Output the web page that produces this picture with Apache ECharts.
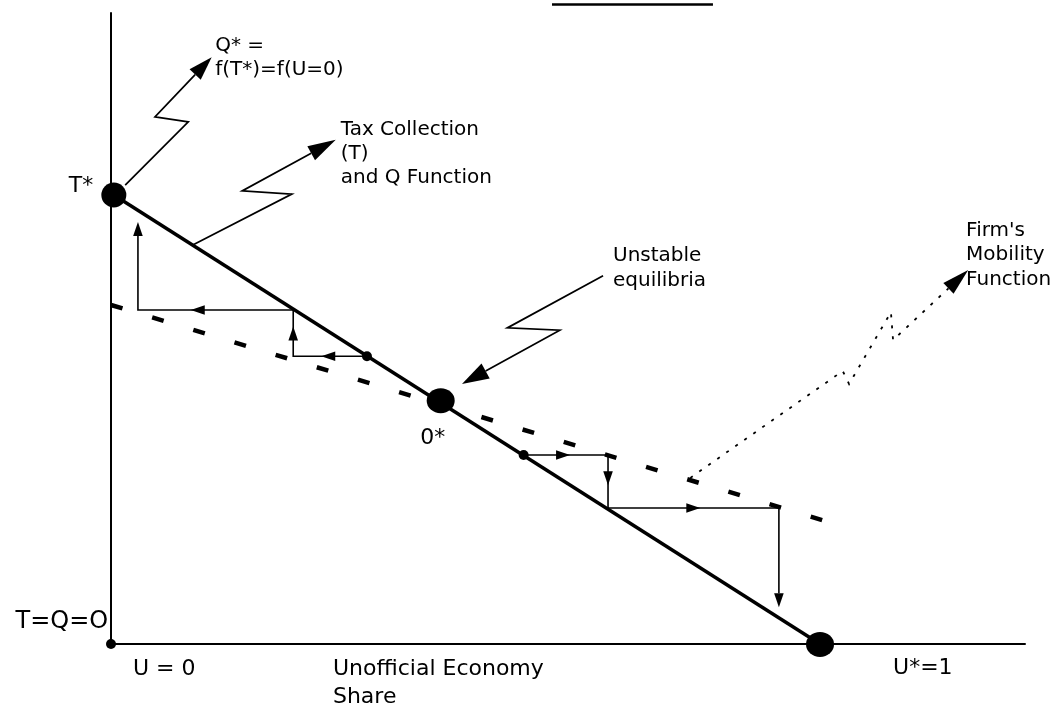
<!DOCTYPE html>
<html><head><meta charset="utf-8">
<script src="https://cdn.jsdelivr.net/npm/echarts@6/dist/echarts.min.js"></script>
<style>html,body{margin:0;padding:0;background:#fff}#c{width:1054px;height:707px}</style>
</head><body><div id="c"></div>
<script>
// ---------------- data (U = unofficial economy share, T = tax collection / Q) ----------------
const taxLine       = [[0.004, 1.000], [1.000, 0.000]];            // Tax collection (T) and Q function
const mobilityLine  = [[0.000, 0.755], [1.003, 0.276]];            // Firm's mobility function
const equilibria    = [[0.004, 1.000], [0.465, 0.542], [1.000, -0.001]]; // T*, 0*, U*=1
const cobwebDots    = [[0.361, 0.641], [0.582, 0.421]];
const originPoint   = [[0, 0]];
const cobwebLeft    = [[0.361, 0.641], [0.257, 0.641], [0.257, 0.744], [0.038, 0.744], [0.038, 0.940]];
const cobwebRight   = [[0.582, 0.421], [0.701, 0.421], [0.701, 0.303], [0.942, 0.303], [0.942, 0.082]];
const arrowQ        = [[0.020, 1.022], [0.109, 1.163], [0.062, 1.174], [0.142, 1.307]];
const arrowTax      = [[0.116, 0.889], [0.255, 1.002], [0.185, 1.009], [0.317, 1.123]];
const arrowUnstable = [[0.694, 0.820], [0.559, 0.704], [0.633, 0.699], [0.495, 0.579]];
const arrowFirm     = [[0.817, 0.370], [1.032, 0.608], [1.041, 0.579], [1.100, 0.739], [1.103, 0.677], [1.209, 0.833]];
const pageRule      = [[0.622, 1.424], [0.849, 1.424]];
const labelTexts    = ['Q* =', 'f(T*)=f(U=0)', 'Tax Collection', '(T)', 'and Q Function',
                       'Unstable', 'equilibria', "Firm's", 'Mobility', 'Function',
                       'T*', '0*', 'T=Q=O', 'U = 0', 'Unofficial Economy', 'Share', 'U*=1'];
const labelAnchors  = [[0.147, 1.332], [0.147, 1.278], [0.324, 1.145], [0.324, 1.091], [0.324, 1.038],
                       [0.708, 0.864], [0.708, 0.809], [1.206, 0.920], [1.206, 0.866], [1.206, 0.811],
                       [-0.025, 1.020], [0.436, 0.458], [-0.004, 0.049], [0.031, -0.057],
                       [0.313, -0.057], [0.313, -0.118], [1.103, -0.055]];

// ---------------- styling ----------------
const FONT = '"DejaVu Sans", sans-serif';
const labelSize  = [20,20,20,20,20, 20,20,20,20,20, 22,22,24,22,22,22,22];
const labelAlign = ['left','left','left','left','left','left','left','left','left','left',
                    'right','left','right','left','left','left','left'];
const dotSizes = [[25, 25], [28, 25], [28, 25]];
const annotationArrows = [
  { pts: arrowQ,        head: [24, 7.7] },
  { pts: arrowTax,      head: [28, 8] },
  { pts: arrowUnstable, head: [27, 8.5] },
  { pts: arrowFirm,     head: [27, 7.5], dash: [3, 8] }
];
const cobwebPaths = [
  { pts: cobwebLeft,  heads: [0.62, 0.64, 0.66, 1] },
  { pts: cobwebRight, heads: [0.55, 0.57, 0.54, 1] }
];

function arrowHead(tip, from, len, half) {
  const dx = tip[0] - from[0], dy = tip[1] - from[1];
  const d = Math.hypot(dx, dy) || 1, ux = dx / d, uy = dy / d;
  const bx = tip[0] - ux * len, by = tip[1] - uy * len;
  return {
    base: [bx, by],
    el: { type: 'polygon', shape: { points: [tip, [bx - uy * half, by + ux * half], [bx + uy * half, by - ux * half]] },
          style: { fill: '#000' } }
  };
}

const chart = echarts.init(document.getElementById('c'), null, { renderer: 'canvas' });
chart.setOption({
  animation: false,
  backgroundColor: '#fff',
  grid: { left: 111, right: 29, top: 13, bottom: 63 },
  xAxis: { type: 'value', min: 0, max: 1.2891, axisLine: { show: true, lineStyle: { color: '#000', width: 2 } },
           axisTick: { show: false }, axisLabel: { show: false }, splitLine: { show: false } },
  yAxis: { type: 'value', min: 0, max: 1.4053, axisLine: { show: true, lineStyle: { color: '#000', width: 2 } },
           axisTick: { show: false }, axisLabel: { show: false }, splitLine: { show: false } },
  series: [
    { name: 'Tax Collection (T) and Q Function', type: 'line', data: taxLine, showSymbol: false, clip: false,
      lineStyle: { color: '#000', width: 3.5 }, z: 3, silent: true },
    { name: "Firm's Mobility Function", type: 'line', data: mobilityLine, showSymbol: false, clip: false,
      lineStyle: { color: '#000', width: 4.5, type: [12, 31], dashOffset: 0, cap: 'butt' }, z: 2, silent: true },
    { type: 'custom', coordinateSystem: 'cartesian2d', silent: true, z: 4,
      data: cobwebPaths.map((c, i) => [c.pts[0][0], c.pts[0][1], i]),
      renderItem: (params, api) => {
        const c = cobwebPaths[api.value(2)];
        const px = c.pts.map(p => api.coord(p));
        const children = [];
        const line = px.slice();
        for (let i = 0; i < px.length - 1; i++) {
          const A = px[i], B = px[i + 1], f = c.heads[i];
          const tip = [A[0] + (B[0] - A[0]) * f, A[1] + (B[1] - A[1]) * f];
          const h = arrowHead(tip, A, 14, 4.8);
          children.push(h.el);
          if (f === 1 && i === px.length - 2) line[line.length - 1] = h.base;
        }
        children.unshift({ type: 'polyline', shape: { points: line }, style: { stroke: '#000', lineWidth: 1.6, fill: 'none' } });
        return { type: 'group', children };
      } },
    { type: 'custom', coordinateSystem: 'cartesian2d', silent: true, z: 4,
      data: annotationArrows.map((a, i) => [a.pts[0][0], a.pts[0][1], i]),
      renderItem: (params, api) => {
        const a = annotationArrows[api.value(2)];
        const px = a.pts.map(p => api.coord(p));
        const h = arrowHead(px[px.length - 1], px[px.length - 2], a.head[0], a.head[1]);
        const line = px.slice(0, -1).concat([h.base]);
        return { type: 'group', children: [
          { type: 'polyline', shape: { points: line },
            style: { stroke: '#000', lineWidth: a.dash ? 1.8 : 1.7, fill: 'none', lineDash: a.dash || null } },
          h.el ] };
      } },
    { type: 'custom', coordinateSystem: 'cartesian2d', silent: true, z: 4,
      data: [[pageRule[0][0], pageRule[0][1], pageRule[1][0], pageRule[1][1]]],
      renderItem: (params, api) => {
        const a = api.coord([api.value(0), api.value(1)]), b = api.coord([api.value(2), api.value(3)]);
        return { type: 'line', shape: { x1: a[0], y1: a[1], x2: b[0], y2: b[1] }, style: { stroke: '#000', lineWidth: 2.5 } };
      } },
    { name: 'Equilibria', type: 'scatter', data: equilibria, symbol: 'circle', clip: false, silent: true, z: 6,
      symbolSize: (v, p) => dotSizes[p.dataIndex], itemStyle: { color: '#000', opacity: 1 } },
    { type: 'scatter', data: cobwebDots, symbol: 'circle', symbolSize: 10, clip: false, silent: true, z: 6,
      itemStyle: { color: '#000', opacity: 1 } },
    { type: 'scatter', data: originPoint, symbol: 'circle', symbolSize: 10, clip: false, silent: true, z: 6,
      itemStyle: { color: '#000', opacity: 1 } },
    { type: 'custom', coordinateSystem: 'cartesian2d', silent: true, z: 7,
      data: labelAnchors.map((p, i) => [p[0], p[1], i]),
      renderItem: (params, api) => {
        const i = api.value(2);
        const p = api.coord([api.value(0), api.value(1)]);
        return { type: 'text', x: p[0], y: p[1],
                 style: { text: labelTexts[i], fill: '#000', font: labelSize[i] + 'px ' + FONT,
                          align: labelAlign[i], verticalAlign: 'middle' } };
      } }
  ]
});
</script></body></html>
